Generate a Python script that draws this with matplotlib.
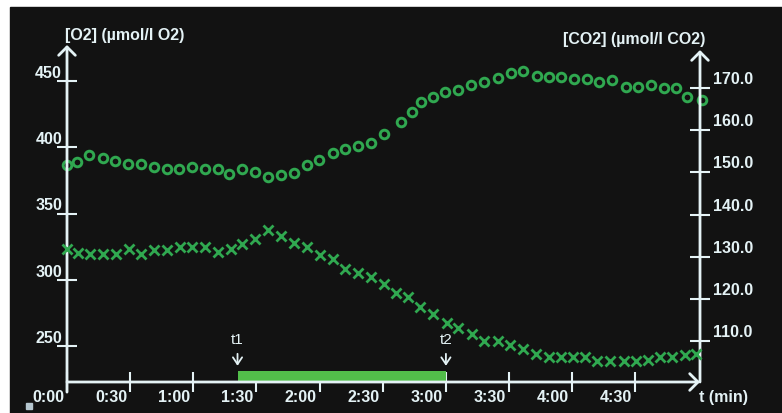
import matplotlib.pyplot as plt
from matplotlib.patches import Rectangle
from matplotlib.transforms import ScaledTranslation

# O2 readings (circles), time in seconds
t_o2 = [0, 4.6, 10.6, 17.0, 22.8, 29.1, 35.2, 41.3, 47.4, 53.3,
        59.5, 65.6, 71.9, 77.0, 83.3, 89.3, 95.6, 101.7, 107.8, 113.9,
        119.9, 126.2, 132.1, 138.4, 144.4, 150.6, 158.7, 163.8, 168.2, 174.0,
        179.6, 185.6, 191.8, 198.1, 204.6, 210.9, 216.8, 223.1, 229.0, 234.7,
        240.9, 246.9, 252.9, 258.8, 265.4, 271.4, 277.4, 283.6, 289.3, 294.7,
        301.5]
o2 = [386.6, 389.1, 394.2, 391.7, 389.8, 387.4, 387.4, 384.9, 383.4, 383.4,
      384.9, 383.4, 383.4, 379.6, 383.4, 381.5, 377.8, 379.1, 380.3, 386.6,
      390.4, 395.4, 398.5, 400.9, 403.4, 409.8, 419.3, 426.8, 434.4, 438.2,
      441.9, 443.2, 447.0, 449.6, 452.5, 455.8, 457.5, 454.0, 453.2, 453.2,
      451.5, 451.5, 449.0, 450.8, 445.7, 445.7, 447.0, 444.5, 444.5, 438.2,
      435.7]

# CO2 readings (crosses)
t_co2 = [0, 5.4, 10.9, 17.2, 23.1, 29.5, 35.2, 41.3, 47.4, 53.7,
         59.5, 65.6, 71.9, 77.8, 83.3, 89.3, 95.6, 101.7, 107.8, 113.9,
         120.2, 126.2, 132.1, 138.4, 144.4, 150.6, 156.2, 162.1, 167.7, 174.0,
         180.4, 185.9, 192.3, 198.3, 204.9, 210.5, 216.4, 222.8, 229.0, 234.7,
         240.4, 246.1, 251.8, 258.0, 264.4, 270.3, 276.0, 281.7, 287.6, 293.6,
         298.8]
co2 = [131.8, 130.8, 130.6, 130.6, 130.6, 131.8, 130.6, 131.6, 131.6, 132.4,
       132.4, 132.2, 131.2, 131.8, 133.0, 134.1, 136.4, 134.9, 133.2, 132.2,
       130.4, 129.4, 127.0, 126.1, 125.1, 123.5, 121.3, 120.4, 118.0, 116.3,
       114.2, 113.0, 111.7, 110.1, 110.0, 109.1, 108.1, 106.9, 106.1, 106.1,
       106.1, 106.1, 105.3, 105.3, 105.3, 105.3, 105.6, 106.1, 106.2, 106.6,
       107.0]

# light on between t1 and t2 [s]
light = [81, 180]
light_labels = ['t1', 't2']

xticks = [0, 30, 60, 90, 120, 150, 180, 210, 240, 270]
xticklabels = ['0:00', '0:30', '1:00', '1:30', '2:00', '2:30', '3:00', '3:30', '4:00', '4:30']
o2_ticks = [250, 300, 350, 400, 450]
co2_ticks = [110, 120, 130, 140, 150, 160, 170]

bg = '#121212'
fg = '#e4f2f5'
green = '#30a850'
barcol = '#52be4a'
fs = 11.5

plt.rcParams['font.family'] = ['Liberation Sans', 'DejaVu Sans']

fig = plt.figure(figsize=(7.82, 4.13), dpi=100, facecolor='white')
fig.patches.append(Rectangle((10/782, 0), 1, 406/413, transform=fig.transFigure,
                             color=bg, zorder=-10))
fig.patches.append(Rectangle((26/782, 4/413), 6/782, 6/413, transform=fig.transFigure,
                             color='#b5c6cf', zorder=-9))

ax = fig.add_axes([67/782, 31/413, 633/782, 337/413])
ax.set_facecolor('none')
ax2 = ax.twinx()
for a in (ax, ax2):
    for s in a.spines.values():
        s.set_visible(False)

ax.set_xlim(0, 300.7)
ax.set_ylim(222.8, 477.2)
ax2.set_ylim(100.28, 180.2)

# data
ax.plot(t_o2, o2, 'o', ms=6.2, mfc='none', mec=green, mew=2.1, clip_on=False)
ax2.plot(t_co2, co2, 'x', ms=7.5, mec=green, mew=2.0, clip_on=False)

# light bar + markers
ax.axvspan(light[0], light[1], ymin=0.003, ymax=0.034, color=barcol, lw=0, zorder=3)
for tl, lab in zip(light, light_labels):
    ax.annotate(lab, xy=(tl, 0.048), xytext=(tl, 0.125),
                xycoords=('data', 'axes fraction'), textcoords=('data', 'axes fraction'),
                ha='center', va='center', color=fg, fontsize=11,
                arrowprops=dict(arrowstyle='->,head_length=0.45,head_width=0.3',
                                color=fg, lw=1.3, shrinkA=3, shrinkB=0))

# axis lines with arrowheads
arr = dict(arrowstyle='->,head_length=0.6,head_width=0.6', color=fg, lw=2,
           shrinkA=0, shrinkB=0)
ax.annotate('', xy=(0, 1), xytext=(0, -0.03), xycoords='axes fraction', arrowprops=arr)
ax.annotate('', xy=(1, 0), xytext=(0, 0), xycoords='axes fraction', arrowprops=arr)
ax.annotate('', xy=(1, 0.985), xytext=(1, 0), xycoords='axes fraction', arrowprops=arr)

# ticks
ax.set_xticks(xticks)
ax.set_xticklabels(xticklabels, ha='right')
ax.set_yticks(o2_ticks)
ax.set_yticklabels([str(v) for v in o2_ticks])
ax2.set_yticks(co2_ticks)
ax2.set_yticklabels(['%.1f' % v for v in co2_ticks])
tick_kw = dict(direction='inout', length=14.4, width=1.5, color=fg, pad=0,
               labelcolor=fg, labelsize=fs)
ax.tick_params(axis='both', **tick_kw)
ax2.tick_params(axis='y', **tick_kw)
for lab in ax.get_xticklabels() + ax.get_yticklabels() + ax2.get_yticklabels():
    lab.set_fontweight('bold')

def shift(labels, dx, dy):
    off = ScaledTranslation(dx/100, dy/100, fig.dpi_scale_trans)
    for lab in labels:
        lab.set_transform(lab.get_transform() + off)

shift(ax.get_xticklabels(), -3, 2)
shift(ax.get_yticklabels(), 5, 9)
shift(ax2.get_yticklabels(), 3, 10)

# axis titles
ax.set_ylabel('[O2] (µmol/l O2)', rotation=0, ha='left', va='center',
              color=fg, fontsize=fs, fontweight='bold')
ax.yaxis.set_label_coords(-0.003, 1.027)
ax2.set_ylabel('[CO2] (µmol/l CO2)', rotation=0, ha='right', va='center',
               color=fg, fontsize=fs, fontweight='bold')
ax2.yaxis.set_label_coords(1.008, 1.015)
ax.set_xlabel('t (min)', ha='left', va='center', color=fg, fontsize=fs,
              fontweight='bold')
ax.xaxis.set_label_coords(0.998, -0.047)

fig.savefig('out.png', dpi=100, facecolor=fig.get_facecolor())
